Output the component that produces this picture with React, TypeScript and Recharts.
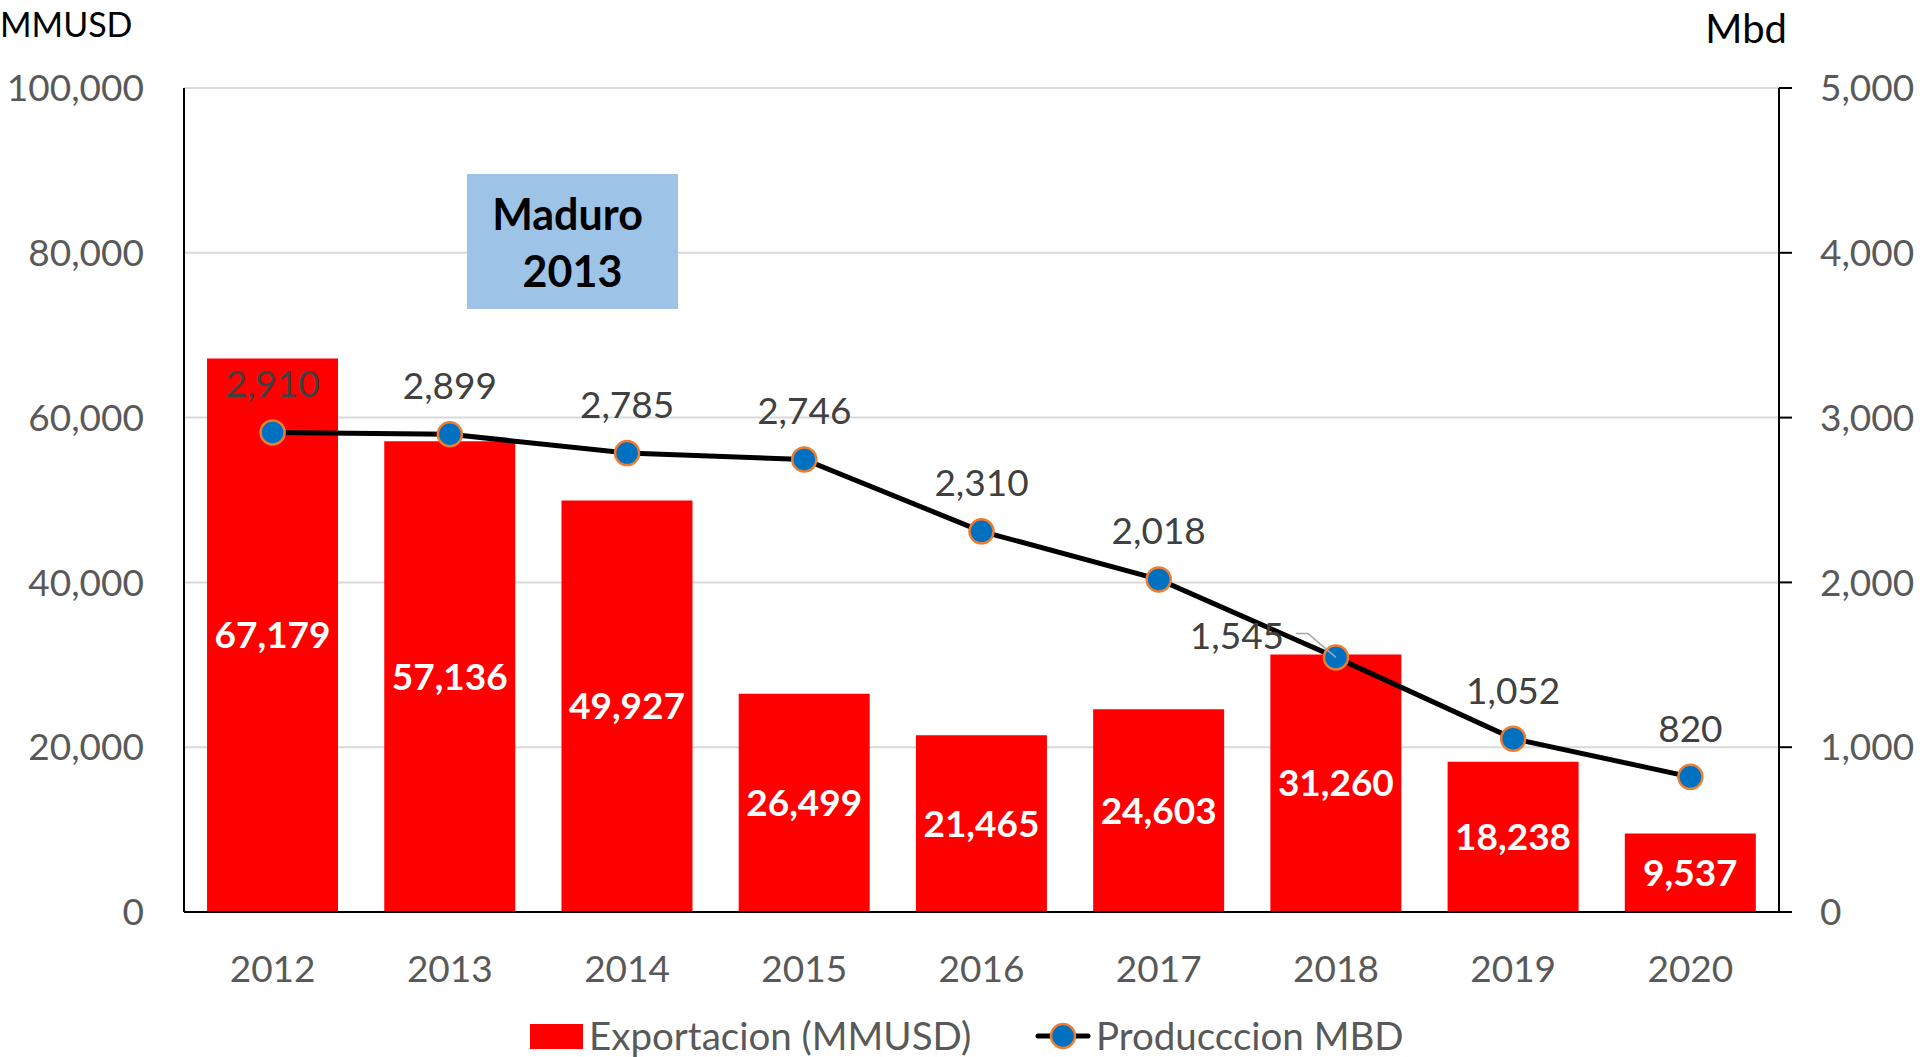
import React from 'react';
import {
  ComposedChart,
  Bar,
  Line,
  XAxis,
  YAxis,
  CartesianGrid,
  Legend,
  LabelList,
  Label,
} from 'recharts';

const years = ['2012', '2013', '2014', '2015', '2016', '2017', '2018', '2019', '2020'];
const exportacion = [67179, 57136, 49927, 26499, 21465, 24603, 31260, 18238, 9537];
const produccion = [2910, 2899, 2785, 2746, 2310, 2018, 1545, 1052, 820];
const leftTicks = [0, 20000, 40000, 60000, 80000, 100000];
const rightTicks = [0, 1000, 2000, 3000, 4000, 5000];

const data = years.map((year, i) => ({
  year,
  exportacion: exportacion[i],
  produccion: produccion[i],
}));

const FONT = 'Lato, "Open Sans", sans-serif';
const fmt = (v: number) => v.toLocaleString('en-US');

const LineValueLabel = (props: any) => {
  const { x, y, value, index } = props;
  if (x == null || y == null) return null;
  // 2018 label sits to the left of its point with a leader line
  if (index === 6) {
    return (
      <g>
        <polyline
          points={`${x - 40},${y - 24} ${x - 28},${y - 24} ${x},${y}`}
          fill="none"
          stroke="#A6A6A6"
          strokeWidth={1.5}
        />
        <text x={x - 99} y={y - 8} textAnchor="middle" fill="#404040" fontSize={37} fontFamily={FONT}>
          {fmt(value)}
        </text>
      </g>
    );
  }
  return (
    <text x={x} y={y - 35} textAnchor="middle" fill="#404040" fontSize={37} fontFamily={FONT}>
      {fmt(value)}
    </text>
  );
};

const LegendContent = () => (
  <div style={{ position: 'relative', width: 1920, height: 44, fontFamily: FONT }}>
    <div style={{ position: 'absolute', left: 530, top: 11, width: 53, height: 25, background: '#FF0000' }} />
    <div style={{ position: 'absolute', left: 589, top: 0, lineHeight: '44px', fontSize: 38.5, color: '#595959', whiteSpace: 'nowrap' }}>
      Exportacion (MMUSD)
    </div>
    <svg style={{ position: 'absolute', left: 1035, top: 0 }} width={56} height={44}>
      <line x1={3} y1={23} x2={53} y2={23} stroke="#000" strokeWidth={5} strokeLinecap="round" />
      <circle cx={28} cy={23} r={12} fill="#0070C0" stroke="#ED7D31" strokeWidth={2.5} />
    </svg>
    <div style={{ position: 'absolute', left: 1096, top: 0, lineHeight: '44px', fontSize: 38.5, color: '#595959', whiteSpace: 'nowrap' }}>
      Producccion MBD
    </div>
  </div>
);

export default function App() {
  return (
    <div style={{ position: 'absolute', left: 0, top: 0, width: 1920, height: 1057, background: '#fff', fontFamily: FONT }}>
      <ComposedChart
        width={1920}
        height={1057}
        data={data}
        margin={{ top: 88, right: 0, bottom: 0, left: 0 }}
        barCategoryGap="13%"
        style={{ fontFamily: FONT }}
      >
        <CartesianGrid yAxisId="left" vertical={false} stroke="#D9D9D9" strokeWidth={2} />
        <XAxis
          dataKey="year"
          height={101}
          axisLine={{ stroke: '#000', strokeWidth: 2 }}
          tickLine={false}
          tickSize={10}
          tickMargin={34}
          tick={{ fill: '#595959', fontSize: 37 }}
        />
        <YAxis
          yAxisId="left"
          width={184}
          domain={[0, 100000]}
          ticks={leftTicks}
          tickFormatter={fmt}
          axisLine={{ stroke: '#000', strokeWidth: 2 }}
          tickLine={false}
          tickSize={10}
          tickMargin={30}
          tick={{ fill: '#595959', fontSize: 37 }}
        >
          <Label
            content={({ viewBox }: any) => (
              <text x={viewBox.x} y={viewBox.y - 51} fill="#000" fontSize={34} fontFamily={FONT}>
                MMUSD
              </text>
            )}
          />
        </YAxis>
        <YAxis
          yAxisId="right"
          orientation="right"
          width={141}
          domain={[0, 5000]}
          ticks={rightTicks}
          tickFormatter={fmt}
          axisLine={{ stroke: '#000', strokeWidth: 2 }}
          tickLine={{ stroke: '#000', strokeWidth: 2 }}
          tickSize={13}
          tickMargin={28}
          tick={{ fill: '#595959', fontSize: 37 }}
        >
          <Label
            content={({ viewBox }: any) => (
              <text x={viewBox.x + 8} y={viewBox.y - 45} textAnchor="end" fill="#000" fontSize={40} fontFamily={FONT}>
                Mbd
              </text>
            )}
          />
        </YAxis>
        <Legend verticalAlign="bottom" content={<LegendContent />} wrapperStyle={{ height: 44 }} />
        <Bar yAxisId="left" dataKey="exportacion" fill="#FF0000" isAnimationActive={false}>
          <LabelList
            dataKey="exportacion"
            position="center"
            formatter={(v: any) => fmt(v)}
            fill="#FFFFFF"
            fontSize={37}
            fontWeight="bold"
            fontFamily={FONT}
          />
        </Bar>
        <Line
          yAxisId="right"
          dataKey="produccion"
          stroke="#000"
          strokeWidth={5}
          dot={{ r: 12, fill: '#0070C0', stroke: '#ED7D31', strokeWidth: 2.5 }}
          activeDot={false}
          isAnimationActive={false}
        >
          <LabelList dataKey="produccion" content={<LineValueLabel />} />
        </Line>
      </ComposedChart>
      <div
        style={{
          position: 'absolute',
          left: 467,
          top: 174,
          width: 211,
          height: 135,
          background: '#9DC3E6',
          color: '#000',
          fontWeight: 'bold',
          fontSize: 43,
          lineHeight: '57px',
          textAlign: 'center',
          display: 'flex',
          flexDirection: 'column',
          justifyContent: 'center',
        }}
      >
        <div style={{ marginRight: 10 }}>Maduro</div>
        <div>2013</div>
      </div>
    </div>
  );
}
